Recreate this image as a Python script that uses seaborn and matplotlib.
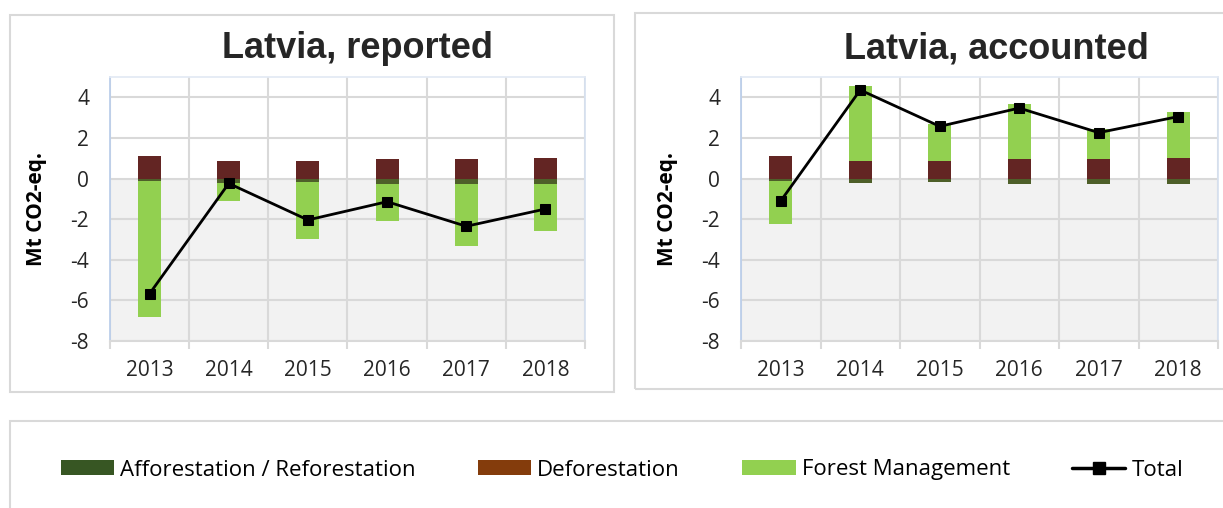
import numpy as np
import matplotlib
matplotlib.use("Agg")
import matplotlib.pyplot as plt
from matplotlib.patches import Rectangle, Patch
from matplotlib.lines import Line2D
import seaborn as sns

# ---------------- data ----------------
years = ["2013", "2014", "2015", "2016", "2017", "2018"]

rep_ar = [-0.13, -0.20, -0.18, -0.28, -0.28, -0.28]
rep_def = [1.12, 0.87, 0.87, 0.95, 0.98, 1.00]
rep_fm = [-6.68, -0.93, -2.78, -1.79, -3.05, -2.30]
rep_total = [-5.67, -0.24, -2.04, -1.14, -2.35, -1.50]

acc_ar = [-0.13, -0.20, -0.18, -0.28, -0.28, -0.28]
acc_def = [1.12, 0.87, 0.87, 0.95, 0.95, 1.00]
acc_fm = [-2.10, 3.69, 1.81, 2.73, 1.50, 2.28]
acc_total = [-1.10, 4.36, 2.57, 3.47, 2.26, 3.05]

series_names = ["Afforestation / Reforestation", "Deforestation", "Forest Management", "Total"]
yticks = [-8, -6, -4, -2, 0, 2, 4]

# ---------------- style ----------------
sns.set_theme(style="white")
plt.rcParams["font.family"] = ["Open Sans", "DejaVu Sans"]

BAR_COLORS = ["#4E5F29", "#632523", "#92D050"]
LEG_COLORS = ["#375623", "#843C0C", "#92D050"]
GRID = "#D9D9D9"
TXT = "#262626"

W, H = 1223, 508
fig = plt.figure(figsize=(W / 100, H / 100), dpi=100)


def fx(px):
    return px / W


def fy(py):
    return 1 - py / H


# panel frames
for (x0, y0, x1, y1) in [(10, 15, 614, 392), (635, 13, 1240, 389), (10, 421, 1240, 512)]:
    fig.patches.append(Rectangle((fx(x0), fy(y1)), fx(x1 - x0), fy(y0) - fy(y1),
                                 transform=fig.transFigure, fill=False,
                                 edgecolor=GRID, lw=1.5, zorder=0))


def stacked(ax, comps, total):
    x = np.arange(len(years))
    pos = np.zeros(len(years))
    neg = np.zeros(len(years))
    for vals, col in zip(comps, BAR_COLORS):
        vals = np.asarray(vals, float)
        bottom = np.where(vals >= 0, pos, neg)
        ax.bar(x, vals, bottom=bottom, width=0.29, color=col, zorder=3, linewidth=0)
        pos = pos + np.where(vals >= 0, vals, 0)
        neg = neg + np.where(vals < 0, vals, 0)
    sns.lineplot(x=x, y=total, ax=ax, color="black", lw=2, marker="s",
                 markersize=7, markeredgecolor="black", zorder=5)


def style_axes(ax):
    ax.set_xlim(-0.5, len(years) - 0.5)
    ax.set_ylim(-8, 5)
    ax.axhspan(-8, 0, color="#F2F2F2", zorder=0, lw=0)
    ax.set_yticks(yticks)
    ax.set_yticklabels([str(v) for v in yticks])
    ax.set_xticks(np.arange(len(years)))
    ax.set_xticklabels(years)
    ax.set_xticks(np.arange(len(years) + 1) - 0.5, minor=True)
    ax.tick_params(axis="x", which="major", length=0, pad=14, labelsize=15, labelcolor=TXT)
    ax.tick_params(axis="x", which="minor", length=6, width=1.5, color=GRID, bottom=True)
    ax.tick_params(axis="y", length=0, pad=15, labelsize=15, labelcolor=TXT)
    ax.grid(True, axis="y", which="major", color=GRID, lw=1.5, zorder=1)
    ax.grid(True, axis="x", which="minor", color=GRID, lw=1.5, zorder=1)
    ax.grid(False, axis="x", which="major")
    ax.set_axisbelow(True)
    ax.spines["left"].set_color("#BCCFEA")
    ax.spines["left"].set_linewidth(1.3)
    ax.spines["top"].set_color("#E3EAF4")
    ax.spines["right"].set_color("#D6E1F0")
    ax.spines["bottom"].set_color(GRID)
    ax.spines["bottom"].set_linewidth(1.5)
    ax.set_xlabel("")
    ax.set_ylabel("Mt CO2-eq.", fontsize=15, fontweight="bold", color="black")
    ax.yaxis.set_label_coords(-0.133, 0.5)


ax1 = fig.add_axes([fx(110), fy(341), fx(585 - 110), fy(77) - fy(341)])
ax2 = fig.add_axes([fx(741), fy(341), fx(1218 - 741), fy(77) - fy(341)])

stacked(ax1, [rep_ar, rep_def, rep_fm], rep_total)
stacked(ax2, [acc_ar, acc_def, acc_fm], acc_total)
style_axes(ax1)
style_axes(ax2)

fig.text(fx(357), fy(58), "Latvia, reported", ha="center", va="baseline",
         fontsize=26, fontweight="bold", family=["Liberation Sans", "DejaVu Sans"])
fig.text(fx(996), fy(58), "Latvia, accounted", ha="center", va="baseline",
         fontsize=26, fontweight="bold", family=["Liberation Sans", "DejaVu Sans"])

handles = [Patch(facecolor=c, edgecolor="none") for c in LEG_COLORS]
handles.append(Line2D([0], [0], color="black", lw=2.5, marker="s", markersize=8))
fig.legend(handles, series_names, loc="center", bbox_to_anchor=(fx(622), fy(470)),
           ncol=4, frameon=False, fontsize=16, handlelength=2.4, handleheight=0.63,
           handletextpad=0.27, columnspacing=2.8, labelcolor="black")

fig.savefig("out.png", dpi=100)
